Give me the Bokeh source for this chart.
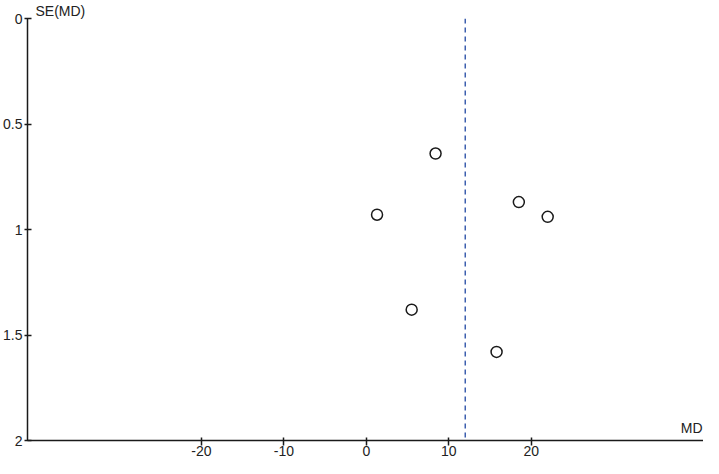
from bokeh.plotting import figure
from bokeh.models import Range1d, FixedTicker, Label, ColumnDataSource
from bokeh.embed import file_html
from bokeh.resources import INLINE

# Data
md_values = [1.3, 8.4, 18.5, 22.0, 5.5, 15.8]
se_values = [0.93, 0.64, 0.87, 0.94, 1.38, 1.58]
pooled_md = 12.0
se_limits = [0.0, 2.0]

x_ticks = [-20, -10, 0, 10, 20]
x_tick_labels = ["-20", "-10", "0", "10", "20"]
y_ticks = [0, 0.5, 1, 1.5, 2]
y_tick_labels = ["0", "0.5", "1", "1.5", "2"]

FONT = "Liberation Sans"
TXT = "#222222"

p = figure(width=703, height=458, output_backend="svg", toolbar_location=None,
           x_range=Range1d(-41.1, 40.9), y_range=Range1d(2, 0),
           min_border_left=25, min_border_right=0, min_border_top=0, min_border_bottom=16,
           title="SE(MD)")

p.title.text_font = FONT
p.title.text_font_size = "14px"
p.title.text_font_style = "normal"
p.title.text_color = TXT
p.title.align = "left"
p.title.offset = 8
p.title.standoff = 0

p.xgrid.visible = False
p.ygrid.visible = False
p.outline_line_color = None
p.background_fill_color = "white"
p.border_fill_color = "white"

for ax in (p.xaxis[0], p.yaxis[0]):
    ax.axis_line_color = "#1a1a1a"
    ax.axis_line_width = 1.5
    ax.major_tick_line_color = "#1a1a1a"
    ax.major_tick_line_width = 1.5
    ax.minor_tick_line_color = None
    ax.major_label_text_font = FONT
    ax.major_label_text_font_size = "14px"
    ax.major_label_text_color = TXT
    ax.axis_label_standoff = 0

p.xaxis.ticker = FixedTicker(ticks=x_ticks)
p.xaxis.major_label_overrides = {t: l for t, l in zip(x_ticks, x_tick_labels)}
p.xaxis.major_tick_in = 3
p.xaxis.major_tick_out = 5
p.xaxis.major_label_standoff = 0

p.yaxis.ticker = FixedTicker(ticks=y_ticks)
p.yaxis.major_label_overrides = {t: l for t, l in zip(y_ticks, y_tick_labels)}
p.yaxis.major_tick_in = 4
p.yaxis.major_tick_out = 3
p.yaxis.major_label_standoff = 2

# pooled estimate line
p.line(x=[pooled_md, pooled_md], y=se_limits, line_color="#3d5fae",
       line_width=1.5, line_dash="5 4")

src = ColumnDataSource(data=dict(md=md_values, se=se_values))
p.scatter(x="md", y="se", source=src, size=11, marker="circle",
          fill_color="white", line_color="#1a1a1a", line_width=1.5)

p.add_layout(Label(x=40.9, y=2, text="MD", text_font=FONT,
                   text_font_size="14px", text_color=TXT,
                   text_baseline="bottom", text_align="right", y_offset=5, x_offset=-1))

open("out.html", "w").write(file_html(p, INLINE))
